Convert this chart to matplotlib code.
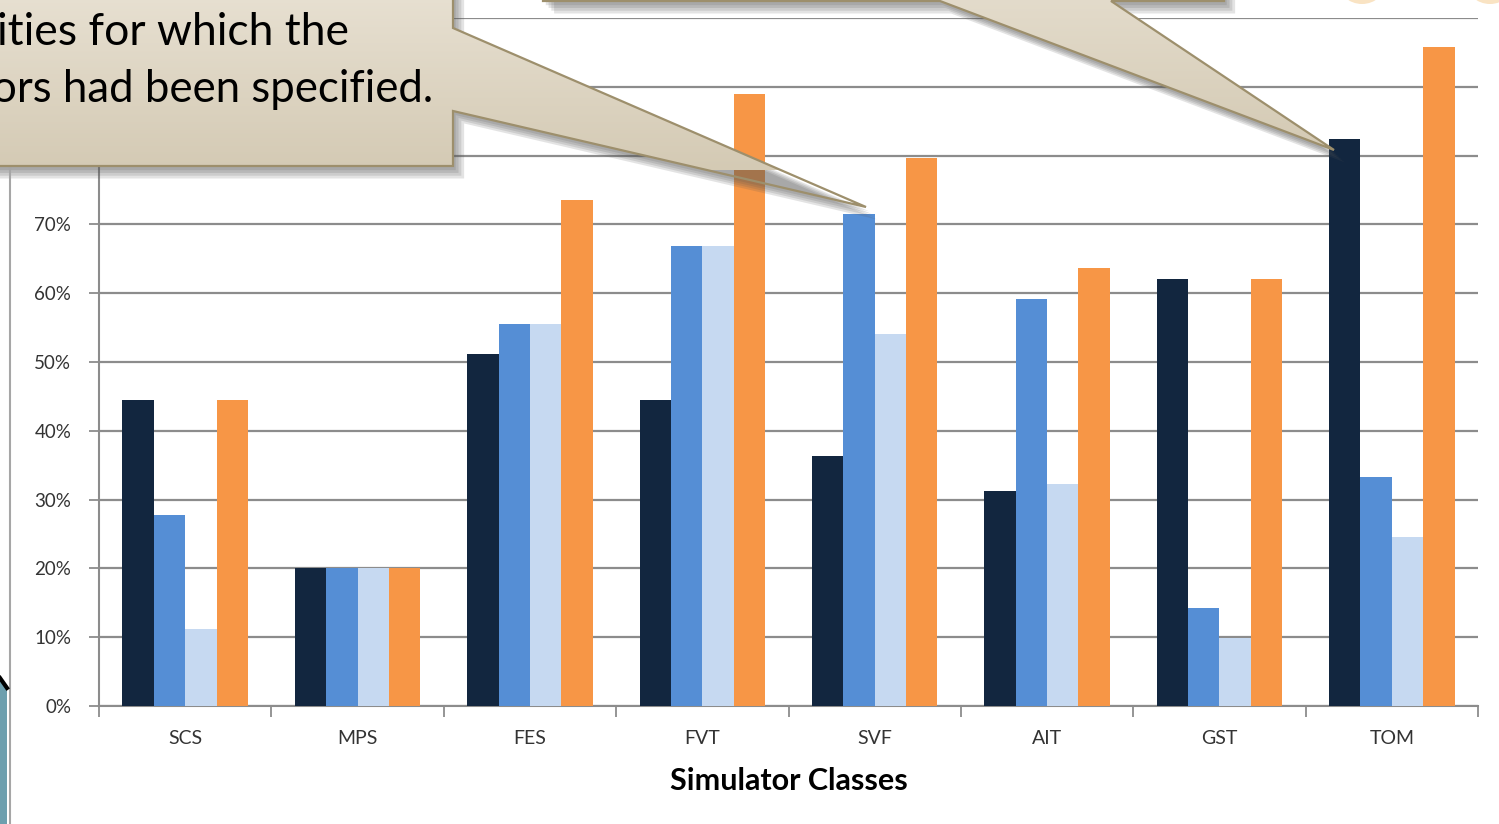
import numpy as np
import matplotlib
matplotlib.use("Agg")
import matplotlib.pyplot as plt
from matplotlib.patches import Polygon, Ellipse
import matplotlib.patheffects as pe

plt.rcParams['font.family'] = ['Lato', 'DejaVu Sans']

categories = ['SCS', 'MPS', 'FES', 'FVT', 'SVF', 'AIT', 'GST', 'TOM']
series_a = [44.5, 20.0, 51.1, 44.5, 36.4, 31.3, 62.0, 82.4]
series_b = [27.8, 20.0, 55.5, 66.8, 71.5, 59.1, 14.3, 33.3]
series_c = [11.2, 20.0, 55.5, 66.8, 54.0, 32.3, 9.9, 24.5]
series_d = [44.5, 20.0, 73.5, 88.9, 79.6, 63.6, 62.0, 95.8]
colors = ['#12263f', '#558ed5', '#c6d9f1', '#f79646']

W, H = 1499, 824
fig = plt.figure(figsize=(W / 100, H / 100), dpi=100)
fig.patch.set_facecolor('white')

ax = fig.add_axes([99 / W, 1 - 706 / H, (1478 - 99) / W, (706 - 18) / H])
x = np.arange(len(categories))
bw = 0.182
for i, (vals, c) in enumerate(zip([series_a, series_b, series_c, series_d], colors)):
    ax.bar(x + (i - 1.5) * bw, vals, width=bw, color=c, zorder=3)

ax.set_xlim(-0.5, len(categories) - 0.5)
ax.set_ylim(0, 100)
ax.set_yticks(np.arange(0, 101, 10))
# the upper labels sit under the callout box
ax.set_yticklabels([f'{v}%' if v <= 70 else '' for v in range(0, 101, 10)],
                   fontsize=13.5, color='#333333')
ax.yaxis.grid(True, color='#8c8c8c', linewidth=1.6, zorder=0)
ax.set_xticks(x)
ax.set_xticklabels(categories, fontsize=14, color='#333333')
ax.set_xticks(np.arange(-0.5, len(categories)), minor=True)
ax.tick_params(axis='x', which='major', length=0, pad=17)
ax.tick_params(axis='x', which='minor', length=8, width=1.3, color='#8c8c8c')
ax.tick_params(axis='y', length=7, width=1.3, color='#8c8c8c', pad=13)
for s in ['top', 'right']:
    ax.spines[s].set_visible(False)
for s in ['left', 'bottom']:
    ax.spines[s].set_color('#8c8c8c')
    ax.spines[s].set_linewidth(1.5)
ax.set_xlabel('Simulator Classes', fontsize=22, fontweight='bold', labelpad=15)

# overlay in pixel coordinates for the slide callouts
ov = fig.add_axes([0, 0, 1, 1])
ov.set_xlim(0, W)
ov.set_ylim(H, 0)
ov.axis('off')
ov.set_zorder(5)

ov.plot([10, 10], [0, H], color='#a6a6a6', lw=1.5)
ov.add_patch(Polygon([(0, 680), (7, 690), (7, H), (0, H)], closed=True,
                     facecolor='#6d9fae', edgecolor='none'))
ov.plot([0, 7], [678, 688], color='black', lw=3)

for cx in [1362, 1490]:
    ov.add_patch(Ellipse((cx, -18), 48, 44, facecolor='#f8dcb4', edgecolor='none', alpha=0.8))

grad = np.linspace(0, 1, 256).reshape(-1, 1)
cmap = matplotlib.colors.LinearSegmentedColormap.from_list('tan', ['#e9e2d4', '#d4cab4'])

callouts = [
    ([(-20, -20), (453, -20), (453, 28), (866, 207), (453, 111), (453, 166), (-20, 166)], (-20, 170)),
    ([(543, -100), (1224, -100), (1224, 1), (1111, 1), (1334, 150), (940, 1), (543, 1)], (-60, 150)),
]
for pts, (y0, y1) in callouts:
    shadow = Polygon(pts, closed=True, facecolor='none', edgecolor='none',
                     path_effects=[pe.SimplePatchShadow(offset=(off, -off - 1), shadow_rgbFace='#555555',
                                                        alpha=0.16) for off in (2, 4, 6, 8)])
    ov.add_patch(shadow)
    poly = Polygon(pts, closed=True, facecolor='none', edgecolor='#9d8f6c', lw=1.6, zorder=3)
    ov.add_patch(poly)
    xs = [p[0] for p in pts]
    im = ov.imshow(grad, extent=(min(xs), max(xs), y1, y0), cmap=cmap, aspect='auto', zorder=2)
    im.set_clip_path(poly)

ov.set_xlim(0, W)
ov.set_ylim(H, 0)

ov.text(-3, 32, 'ities for which the', fontsize=32, color='black', va='center', ha='left', zorder=4)
ov.text(-8, 89, 'ors had been specified.', fontsize=31.5, color='black', va='center', ha='left', zorder=4)

fig.savefig('out.png', dpi=100)
